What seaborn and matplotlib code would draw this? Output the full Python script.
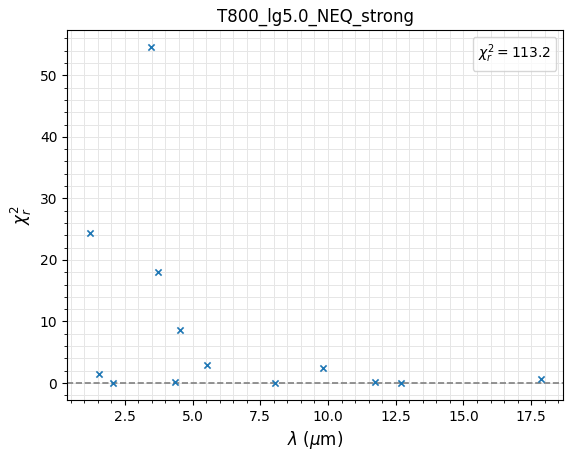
import numpy as np
import pandas as pd
import seaborn as sns
import matplotlib
matplotlib.use("Agg")
import matplotlib.pyplot as plt

# wavelength (micron) and reduced chi^2 per band
wavelength = [1.20, 1.54, 2.06, 3.47, 3.72, 4.37, 4.54, 5.54, 8.05, 9.83, 11.73, 12.68, 17.85]
chi2_r = [24.4, 1.4, 0.05, 54.6, 18.1, 0.2, 8.6, 2.9, 0.05, 2.5, 0.2, 0.05, 0.7]
chi2_total = 113.2
model_name = "T800_lg5.0_NEQ_strong"

df = pd.DataFrame({"wl": wavelength, "chi2": chi2_r})

fig, ax = plt.subplots(figsize=(5.73, 4.58), dpi=100)
fig.subplots_adjust(left=0.117, right=0.983, top=0.934, bottom=0.127)

sns.scatterplot(data=df, x="wl", y="chi2", marker="x", s=20, color="#1f77b4",
                linewidth=1.2, ax=ax, zorder=3)
ax.axhline(0, color="gray", ls="--", lw=1.2, zorder=2)

ax.minorticks_on()
ax.grid(True, which="both", color="#e6e6e6", lw=0.7, zorder=0)
ax.set_axisbelow(True)

ax.plot([], [], " ", label=rf"$\chi_r^2 = {chi2_total}$")
ax.legend(loc="upper right", handlelength=0, handletextpad=0, fontsize=10)

ax.set_xlabel(r"$\lambda$ ($\mu$m)", fontsize=12)
ax.set_ylabel(r"$\chi_r^2$", fontsize=12)
ax.set_title(model_name)

fig.savefig("out.png", dpi=100)
